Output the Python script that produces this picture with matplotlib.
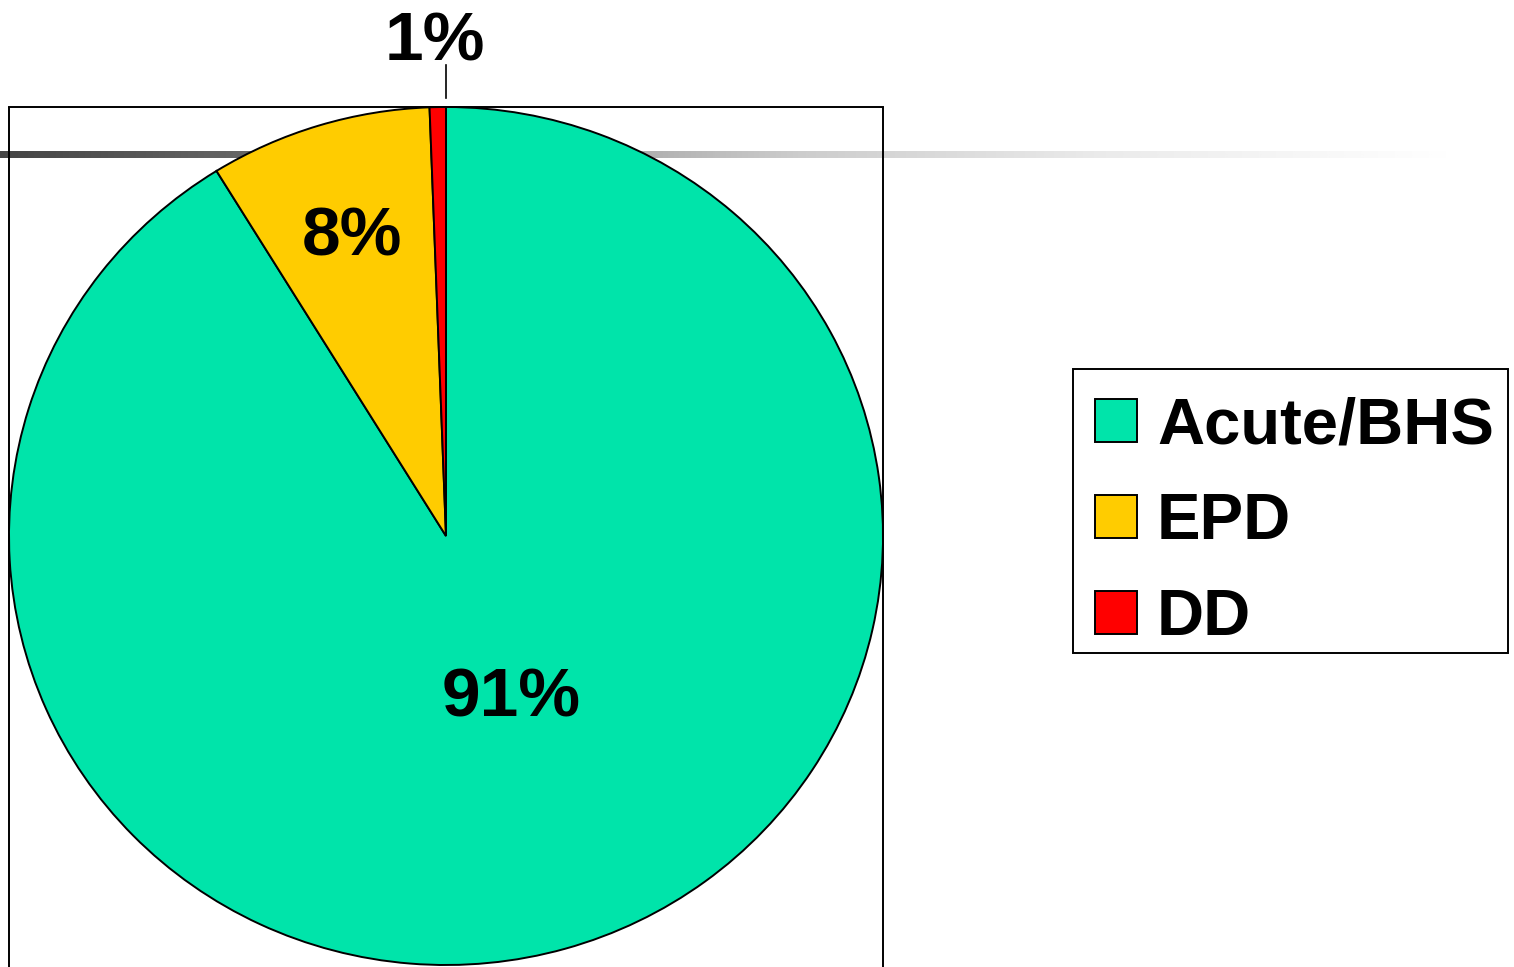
import matplotlib
matplotlib.use("Agg")
import matplotlib.pyplot as plt
import numpy as np
from matplotlib.colors import LinearSegmentedColormap
from matplotlib.patches import Rectangle

categories = ["Acute/BHS", "EPD", "DD"]
values = [91.2, 8.2, 0.6]
pct_labels = ["91%", "8%", "1%"]
colors = ["#00E4AA", "#FFCC00", "#FF0000"]

W, H = 1514, 967
fig = plt.figure(figsize=(W / 100, H / 100), dpi=100)
fig.patch.set_facecolor("white")

# background layer: gradient rule + frame
bg = fig.add_axes([0, 0, 1, 1], zorder=0)
bg.set_xlim(0, W)
bg.set_ylim(H, 0)
bg.axis("off")
cmap = LinearSegmentedColormap.from_list(
    "rule",
    [(0.0, (0.27, 0.27, 0.27)), (0.17, (0.40, 0.40, 0.40)), (0.55, (0.80, 0.80, 0.80)),
     (0.76, (0.92, 0.92, 0.92)), (1.0, (1, 1, 1))])
grad = np.linspace(0, 1, 512).reshape(1, -1)
bg.imshow(grad, extent=[0, 1450, 158, 151], aspect="auto", cmap=cmap, zorder=1)
bg.plot([9, 9], [107, H + 5], color="black", lw=1.4, zorder=2, solid_capstyle="butt")
bg.plot([883, 883], [107, H + 5], color="black", lw=1.4, zorder=2, solid_capstyle="butt")
bg.plot([9, 883], [107, 107], color="black", lw=1.4, zorder=2, solid_capstyle="projecting")
# legend frame
bg.add_patch(Rectangle((1073, 369), 1508 - 1073, 653 - 369, facecolor="white",
                       edgecolor="black", lw=1.4, zorder=2))

# pie axes
left, right, top, bottom = 9, 883, 107, 965
ax = fig.add_axes([left / W, 1 - bottom / H, (right - left) / W, (bottom - top) / H], zorder=1)
wedges, _ = ax.pie(values, colors=colors, startangle=90, counterclock=False,
                   wedgeprops=dict(edgecolor="black", linewidth=1.4))
ax.set_aspect("auto")
ax.set_xlim(-1, 1)
ax.set_ylim(-1, 1)
ax.axis("off")
ax.patch.set_alpha(0)

font = dict(family=["Liberation Sans", "DejaVu Sans"], weight="bold", fontsize=50, color="black")
ax.text(0.149, -0.378, pct_labels[0], ha="center", va="center", **font)
ax.text(-0.215, 0.695, pct_labels[1], ha="center", va="center", **font)
ax.text(-0.025, 1.150, pct_labels[2], ha="center", va="center", clip_on=False, **font)
ax.plot([0, 0], [1.021, 1.098], color="black", lw=1.2, clip_on=False)

leg = fig.legend(wedges, categories, loc="upper left",
                 bbox_to_anchor=(1095 / W, 1 - 396.5 / H),
                 prop=dict(family=["Liberation Sans", "DejaVu Sans"], weight="bold", size=47),
                 frameon=False,
                 handlelength=0.65, handleheight=0.65, handletextpad=0.3,
                 labelspacing=0.55, borderpad=0, borderaxespad=0)
leg.set_zorder(5)

fig.savefig("out.png", dpi=100, facecolor="white")
